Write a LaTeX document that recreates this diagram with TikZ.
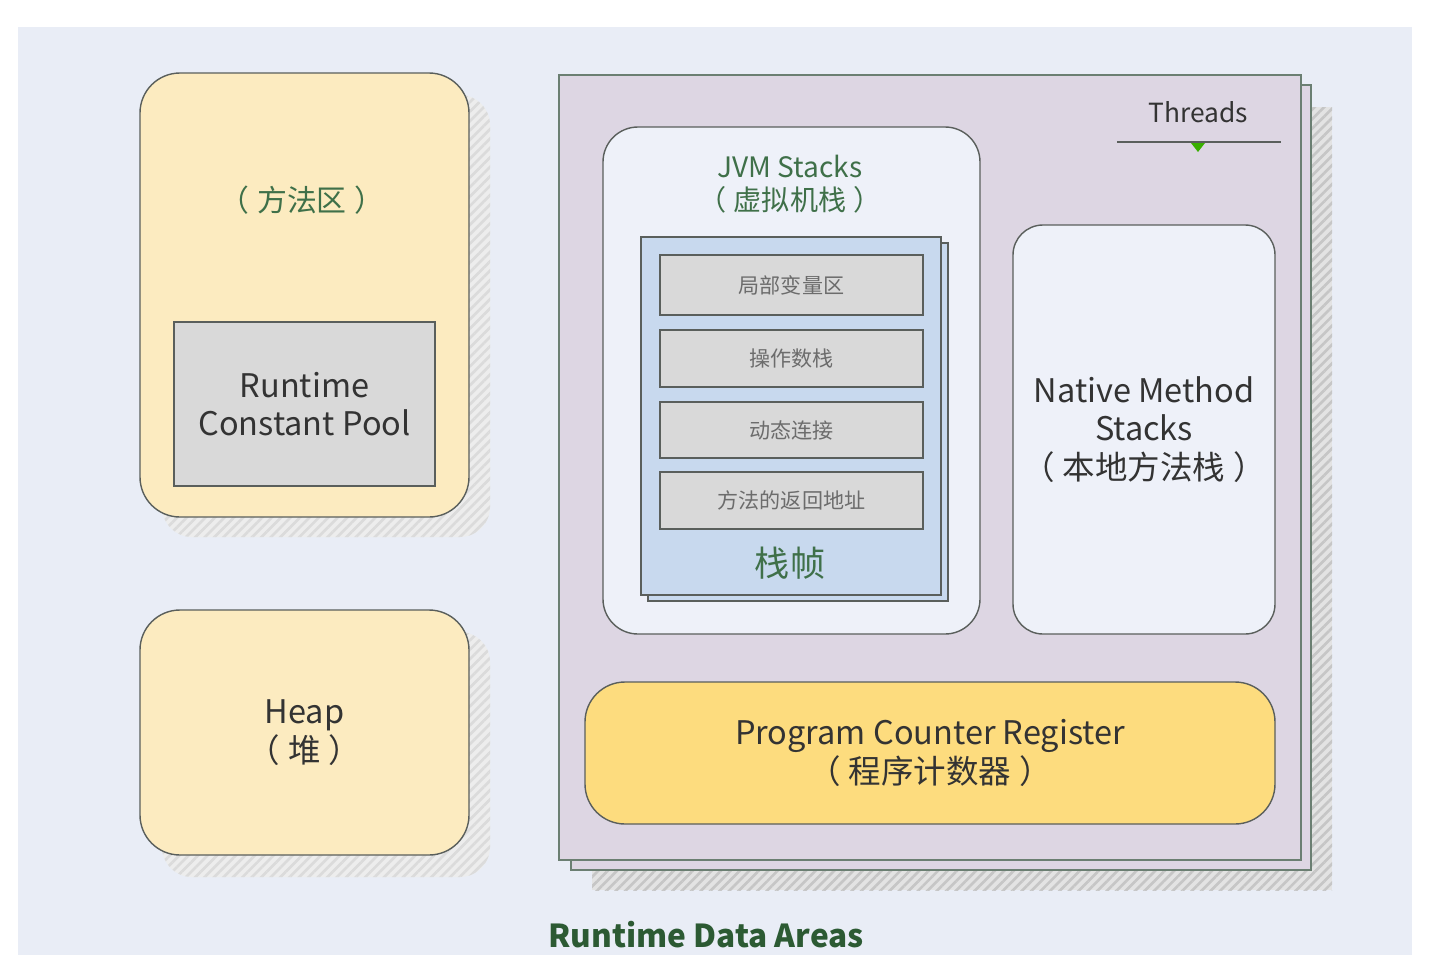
\documentclass[tikz,border=0pt]{standalone}
\usepackage{fontspec}
\setmainfont{Noto Sans CJK SC}
\usepackage{tikz}
\usetikzlibrary{positioning,fit,patterns.meta}
\definecolor{bgblue}{HTML}{E9EDF6}
\definecolor{areayellow}{HTML}{FCEBC0}
\definecolor{threadpurple}{HTML}{DDD6E3}
\definecolor{stackwhite}{HTML}{EEF1F9}
\definecolor{frameblue}{HTML}{C8D9EE}
\definecolor{cellgrey}{HTML}{D9D9D9}
\definecolor{pcgold}{HTML}{FDDC7E}
\definecolor{boxline}{HTML}{5A5F5C}
\definecolor{threadline}{HTML}{6B7F72}
\definecolor{labelgreen}{HTML}{3F7049}
\definecolor{titlegreen}{HTML}{2C5A33}
\definecolor{textgrey}{HTML}{333333}
\newcommand{\zhparen}[1]{（\hspace{0.25em}#1\hspace{0.25em}）}

\begin{document}
\begin{tikzpicture}[x=0.02cm,y=-0.02cm,
  area/.style={draw=boxline, line width=0.8pt, fill=areayellow, rounded corners=0.8cm, inner sep=0pt},
  hatch/.style={fill=gray!22, postaction={pattern={Lines[angle=45,distance=3.8pt,line width=1.5pt]}, pattern color=gray!45}},
  softhatch/.style={fill=gray!14, postaction={pattern={Lines[angle=45,distance=3.8pt,line width=1.5pt]}, pattern color=gray!28}},
  sheet/.style={draw=threadline, line width=0.8pt, fill=threadpurple, inner sep=0pt},
  stackbox/.style={draw=boxline, line width=0.8pt, fill=stackwhite, inner sep=0pt},
  cell/.style={draw=boxline, line width=0.8pt, fill=cellgrey, inner sep=0pt},
  big/.style={font=\fontsize{18.5}{22}\selectfont, text=textgrey, align=center},
  green/.style={font=\fontsize{16}{19}\selectfont, text=labelgreen, align=center},
  small/.style={font=\fontsize{12}{14}\selectfont, text=gray!85!black}
]
\useasboundingbox (0,0) rectangle (1434,978);
\fill[white] (0,0) rectangle (1434,978);
\fill[bgblue] (18,27) rectangle (1412,955);

% method area
\path[softhatch, rounded corners=0.6cm] (162,95) rectangle (490,537);
\node[area, fit={(140,73) (469,517)}] (method) {};
\node[green, font=\fontsize{17}{20}\selectfont] (methodlbl) at (302,200) {\zhparen{方法区}};
\node[cell, fit={(174,322) (435,486)}] (pool) {};
\node[big] (poollbl) at (pool.center) {Runtime\\Constant Pool};

% heap
\path[softhatch, rounded corners=0.6cm] (162,632) rectangle (490,877);
\node[area, fit={(140,610) (469,855)}] (heap) {};
\node[big] (heaplbl) at (heap.center) {Heap\\\zhparen{堆}};

% threads
\path[hatch] (592,107) rectangle (1332,890);
\node[sheet, fit={(571,85) (1311,870)}] (threads2) {};
\node[sheet, fit={(559,75) (1301,860)}] (threads) {};
\node[font=\fontsize{15}{18}\selectfont, text=textgrey] (threadslbl) at (1198,112) {Threads};
\coordinate (tl) at (1117,142);
\coordinate (tr) at (1281,142);
\draw[boxline, line width=0.8pt] (tl) -- (tr);
\fill[green!55!black!70!lime] (1191,143) -- (1205,143) -- (1198,152) -- cycle;

% jvm stacks
\node[stackbox, rounded corners=0.7cm, fit={(603,127) (980,634)}] (jvm) {};
\node[green] (jvmlbl) at (790,184) {JVM Stacks\\\zhparen{虚拟机栈}};
\node[draw=boxline, fill=frameblue, line width=0.8pt, inner sep=0pt, fit={(648,243) (948,601)}] (frame2) {};
\node[draw=boxline, fill=frameblue, line width=0.8pt, inner sep=0pt, fit={(641,237) (941,595)}] (frame) {};
\node[cell, fit={(660,255) (923,315)}] (c1) {};
\node[cell, fit={(660,330) (923,387)}] (c2) {};
\node[cell, fit={(660,402) (923,458)}] (c3) {};
\node[cell, fit={(660,472) (923,529)}] (c4) {};
\node[small] at (c1.center) {局部变量区};
\node[small] at (c2.center) {操作数栈};
\node[small] at (c3.center) {动态连接};
\node[small] at (c4.center) {方法的返回地址};
\node[green, font=\fontsize{20}{24}\selectfont] (framelbl) at (790,563) {栈帧};

% native method stacks
\node[stackbox, rounded corners=0.6cm, fit={(1013,225) (1275,634)}] (native) {};
\node[big] (nativelbl) at (native.center) {Native Method\\Stacks\\\zhparen{本地方法栈}};

% program counter
\node[draw=boxline, line width=0.8pt, fill=pcgold, rounded corners=0.8cm, inner sep=0pt, fit={(585,682) (1275,824)}] (pc) {};
\node[big] (pclbl) at (pc.center) {Program Counter Register\\\zhparen{程序计数器}};

\node[font=\bfseries\fontsize{18}{22}\selectfont, text=titlegreen] (title) at (706,935) {Runtime Data Areas};
\end{tikzpicture}
\end{document}
